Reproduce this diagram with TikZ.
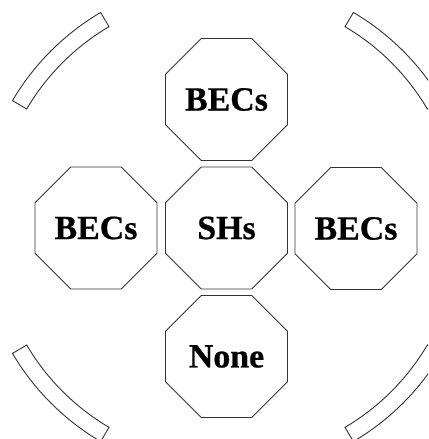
\documentclass[tikz,border=0pt]{standalone}
\usepackage{fontspec}
\setmainfont{Liberation Serif}
\newfontfamily\octfont[FakeBold=0.6]{Liberation Serif Bold}
\usetikzlibrary{shapes.geometric}
\definecolor{linegray}{HTML}{333333}
\begin{document}
\begin{tikzpicture}[x=1bp,y=1bp,
  oct/.style={draw=linegray, line width=0.9bp, regular polygon, regular polygon sides=8,
    minimum size=132bp, inner sep=0pt, font=\octfont\fontsize{34}{40}\selectfont},
  band/.style={draw=linegray, line width=0.9bp}]
\useasboundingbox (0,0) rectangle (428,439);
\clip (0,0) rectangle (428,439);
\coordinate (C) at (227,212);
\node[oct] (top) at (226.5,339.5) {BECs};
\node[oct] (mid) at (226.5,211) {SHs};
\node[oct] (left) at (96,211) {BECs};
\node[oct] (right) at (356,210.5) {BECs};
\node[oct] (bottom) at (226.5,82.5) {None};
\foreach \a in {30.5,120.5,210.5,300.5} {
  \pgfmathsetmacro\b{\a+29}
  \draw[band] ([shift={(\a:232.5bp)}]C) arc[start angle=\a, end angle=\b, radius=232.5bp]
    -- ([shift={(\b:249bp)}]C) arc[start angle=\b, end angle=\a, radius=249bp] -- cycle;
}
\end{tikzpicture}
\end{document}
